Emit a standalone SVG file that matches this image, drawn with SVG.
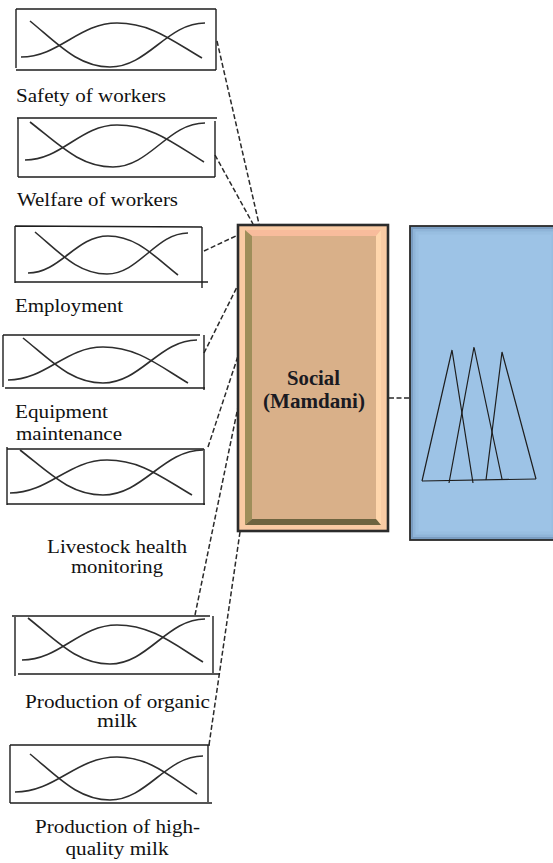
<svg xmlns="http://www.w3.org/2000/svg" width="553" height="863" viewBox="0 0 553 863">
<style>
.frame{fill:none;stroke:#1e1e1e;stroke-width:1.4}
.mf{fill:none;stroke:#2e2e2e;stroke-width:1.6}
.lbl{font-family:"Liberation Serif","Times New Roman",serif;font-size:19.5px;fill:#111}
.lc{text-anchor:middle}
.conn{fill:none;stroke:#2a2a2a;stroke-width:1.5;stroke-dasharray:5 2.5}
.tri{fill:none;stroke:#1e1e1e;stroke-width:1.2}
.ttl{font-family:"Liberation Serif","Times New Roman",serif;font-size:20px;font-weight:bold;fill:#1a1a22;text-anchor:middle}
</style>
<rect width="553" height="863" fill="#ffffff"/>

<g id="connectors">
<path class="conn" d="M217,41 L259,224"/>
<path class="conn" d="M215,155 L253,224"/>
<path class="conn" d="M204,251 L238,235"/>
<path class="conn" d="M204,353 L238,285"/>
<path class="conn" d="M208,447 L238,356"/>
<path class="conn" d="M195,615 L238,407"/>
<path class="conn" d="M240,532 L209,745"/>
<path class="conn" d="M389,398 L410,398"/>
</g>

<g id="in1">
<path class="frame" d="M16,9 H216 M16,9 V68 M16,70 H216 M216,9 V70"/>
<path class="mf" d="M30,21 C58,44 78,67 110,67 C148,67 167,23 205,23"/>
<path class="mf" d="M21,57 C59,57 79,23 117,23 C151,23 172,40.5 202,58"/>
<text class="lbl" x="16" y="102" textLength="150" lengthAdjust="spacingAndGlyphs">Safety of workers</text>
</g>

<g id="in2">
<path class="frame" d="M17,118 H217 M18,118 V177 M18,177 H215 M215,121 V177"/>
<path class="mf" d="M30,122 C59,144.5 80,167 113,167 C150,167 168,123 205,123"/>
<path class="mf" d="M25,160 C62,160 80,125 117,125 C152,125 174,143.5 204,162"/>
<text class="lbl" x="17" y="206" textLength="161" lengthAdjust="spacingAndGlyphs">Welfare of workers</text>
</g>

<g id="in3">
<path class="frame" d="M15,226 L202,227 M15,226 V283 M15,282 H208 M202,227 V288"/>
<path class="mf" d="M35,232 C60,253 78,274 107,274 C139,274 156,233 188,233"/>
<path class="mf" d="M28,273 C60,273 76,236 108,236 C136,236 153.5,255.5 178,275"/>
<text class="lbl" x="15" y="312" textLength="108" lengthAdjust="spacingAndGlyphs">Employment</text>
</g>

<g id="in4">
<path class="frame" d="M3,335 H200 M3,335 V387 M5,388 H205 M204,335 V390"/>
<path class="mf" d="M23,338 C51,360.5 71,383 103,383 C140.6,383 159.4,340 197,340"/>
<path class="mf" d="M8,380 C46,380 65,347 103,347 C137,347 158,365 188,383"/>
<text class="lbl" x="15" y="418" textLength="93" lengthAdjust="spacingAndGlyphs">Equipment</text>
<text class="lbl" x="16" y="440" textLength="106" lengthAdjust="spacingAndGlyphs">maintenance</text>
</g>

<g id="in5">
<path class="frame" d="M7,449 H204 M7,447 V505 M7,504 H205 M204,449 V505"/>
<path class="mf" d="M20,450 C49,472.5 70,495 103,495 C143,495 163,450 203,450"/>
<path class="mf" d="M10,493 C49,493 68,460 107,460 C141,460 162,477.5 192,495"/>
<text class="lbl lc" x="117" y="553" textLength="140" lengthAdjust="spacingAndGlyphs">Livestock health</text>
<text class="lbl lc" x="117" y="573" textLength="92" lengthAdjust="spacingAndGlyphs">monitoring</text>
</g>

<g id="in6">
<path class="frame" d="M12,616 H210 M15,617 V676 M18,674 H220 M213,616 V673"/>
<path class="mf" d="M28,618 C57,641 77,664 110,664 C148,664 167,619 205,619"/>
<path class="mf" d="M22,660 C60,660 79,625 117,625 C151,625 173,643.5 203,662"/>
<text class="lbl lc" x="117.5" y="708" textLength="185" lengthAdjust="spacingAndGlyphs">Production of organic</text>
<text class="lbl lc" x="117" y="727" textLength="40" lengthAdjust="spacingAndGlyphs">milk</text>
</g>

<g id="in7">
<path class="frame" d="M10,745 H210 M10,745 V803 M10,803 H212 M208,745 V802"/>
<path class="mf" d="M30,754 C58,777 78,800 110,800 C147,800 166,756 203,756"/>
<path class="mf" d="M15,792 C56,792 76,757 117,757 C149,757 169,775.5 197,794"/>
<text class="lbl lc" x="117.5" y="833" textLength="165" lengthAdjust="spacingAndGlyphs">Production of high-</text>
<text class="lbl lc" x="117" y="855" textLength="103" lengthAdjust="spacingAndGlyphs">quality milk</text>
</g>

<g id="social">
<rect x="238" y="225" width="150" height="306" fill="#F9CBA4" stroke="#2b2b2b" stroke-width="2.6"/>
<polygon points="245,230 381,230 376,236 252,236" fill="#F8BC9C"/>
<polygon points="245,230 252,236 252,519 245,525" fill="#9E8E5A"/>
<polygon points="381,230 381,525 376,519 376,236" fill="#FFD6AC"/>
<polygon points="245,525 252,519 376,519 381,525" fill="#6E6440"/>
<rect x="252" y="236" width="124" height="283" fill="#D9B089"/>
<text class="ttl" x="313.5" y="385" textLength="53" lengthAdjust="spacingAndGlyphs">Social</text>
<text class="ttl" x="314" y="408" textLength="102" lengthAdjust="spacingAndGlyphs">(Mamdani)</text>
</g>

<g id="output">
<rect x="410" y="226" width="150" height="314" fill="#9DC3E6"/>
<rect x="411.5" y="227.5" width="147" height="311" fill="none" stroke="#5F80A4" stroke-width="3" stroke-opacity="0.55"/>
<rect x="414" y="230" width="142" height="306" fill="none" stroke="#6F92B8" stroke-width="3" stroke-opacity="0.3"/>
<rect x="417" y="233" width="136" height="300" fill="none" stroke="#7FA2C8" stroke-width="3" stroke-opacity="0.15"/>
<rect x="410" y="226" width="150" height="314" fill="none" stroke="#2a2a2a" stroke-width="1.8"/>
<path class="tri" d="M422,481 L452,350 L473,483"/>
<path class="tri" d="M449,483 L474,347 L502,479"/>
<path class="tri" d="M486,480 L502,352 L536,479"/>
<path class="tri" d="M422,481 L536,479"/>
</g>
</svg>
